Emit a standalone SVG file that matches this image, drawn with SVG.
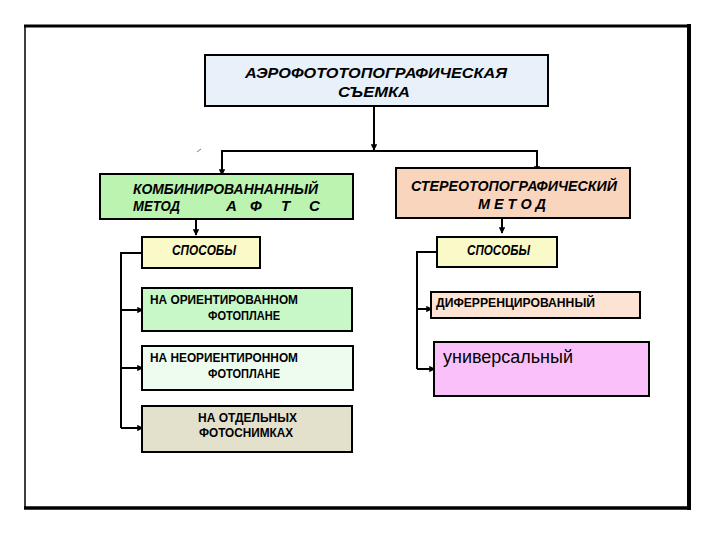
<svg xmlns="http://www.w3.org/2000/svg" width="720" height="540" viewBox="0 0 720 540">
<style>
.box{stroke:#000;stroke-width:2}
.con{fill:none;stroke:#000;stroke-width:2}
.t{font-family:"Liberation Sans",Arial,sans-serif;fill:#000}
.bi{font-weight:bold;font-style:italic;font-size:15px}
.b{font-weight:bold;font-size:12.5px}
</style>
<defs>
<marker id="ah" viewBox="0 0 10 10" refX="9" refY="5" markerWidth="3.2" markerHeight="3.2" orient="auto" markerUnits="strokeWidth">
<path d="M0,0 L10,5 L0,10 Z" fill="#000"/>
</marker>
</defs>
<rect x="0" y="0" width="720" height="540" fill="#fff"/>
<g id="frame">
<line x1="25" y1="25" x2="25" y2="508" stroke="#000" stroke-width="1.5"/>
<line x1="24" y1="26" x2="690" y2="26" stroke="#000" stroke-width="3"/>
<line x1="689" y1="24" x2="689" y2="510" stroke="#000" stroke-width="4"/>
<line x1="24" y1="508" x2="691" y2="508" stroke="#000" stroke-width="3.5"/>
</g>
<g id="connectors">
<path class="con" d="M374,107 V150" marker-end="url(#ah)"/>
<path class="con" d="M222,151 H537"/>
<path class="con" d="M222,150 V175" marker-end="url(#ah)"/>
<path class="con" d="M537,150 V172" marker-end="url(#ah)"/>
<path class="con" d="M196,220 V235" marker-end="url(#ah)"/>
<path class="con" d="M502,218 V233" marker-end="url(#ah)"/>
<path class="con" d="M142,253 H121 V428"/>
<path class="con" d="M121,310 H143" marker-end="url(#ah)"/>
<path class="con" d="M121,368 H143" marker-end="url(#ah)"/>
<path class="con" d="M121,428 H143" marker-end="url(#ah)"/>
<path class="con" d="M437,252 H417 V369"/>
<path class="con" d="M417,309 H432" marker-end="url(#ah)"/>
<path class="con" d="M417,369 H435" marker-end="url(#ah)"/>
<line x1="197" y1="152" x2="201" y2="149" stroke="#777" stroke-width="1"/>
</g>
<g id="n-top">
<rect class="box" x="205" y="55" width="343" height="51" fill="#e8f0fa"/>
<text class="t bi" x="245" y="78" textLength="262" lengthAdjust="spacingAndGlyphs">АЭРОФОТОТОПОГРАФИЧЕСКАЯ</text>
<text class="t bi" x="338" y="97" textLength="72" lengthAdjust="spacingAndGlyphs">СЪЕМКА</text>
</g>
<g id="n-comb">
<rect class="box" x="100" y="174" width="253" height="45" fill="#bbf3b0"/>
<text class="t bi" x="133" y="194" textLength="185" lengthAdjust="spacingAndGlyphs" font-size="14">КОМБИНИРОВАННАННЫЙ</text>
<text class="t bi" x="133" y="211" textLength="47" lengthAdjust="spacingAndGlyphs" font-size="14">МЕТОД</text>
<text class="t bi" x="226" y="211" font-size="14">А</text>
<text class="t bi" x="250" y="211" font-size="14">Ф</text>
<text class="t bi" x="281" y="211" font-size="14">Т</text>
<text class="t bi" x="309" y="211" font-size="14">С</text>
</g>
<g id="n-stereo">
<rect class="box" x="396" y="168" width="234" height="50" fill="#fad5bd"/>
<text class="t bi" x="411" y="191" textLength="206" lengthAdjust="spacingAndGlyphs" font-size="14">СТЕРЕОТОПОГРАФИЧЕСКИЙ</text>
<text class="t bi" x="478" y="209" textLength="68" lengthAdjust="spacingAndGlyphs" font-size="14">М Е Т О Д</text>
</g>
<g id="n-sp-left">
<rect class="box" x="142" y="237" width="118" height="31" fill="#fafac8"/>
<text class="t bi" x="172" y="255" textLength="64" lengthAdjust="spacingAndGlyphs" font-size="13">СПОСОБЫ</text>
</g>
<g id="n-sp-right">
<rect class="box" x="437" y="237" width="120" height="30" fill="#fafac8"/>
<text class="t bi" x="467" y="255" textLength="63" lengthAdjust="spacingAndGlyphs" font-size="13">СПОСОБЫ</text>
</g>
<g id="n-orient">
<rect class="box" x="142" y="288" width="210" height="43" fill="#c8f7c8"/>
<text class="t b" x="150" y="304" textLength="148" lengthAdjust="spacingAndGlyphs">НА ОРИЕНТИРОВАННОМ</text>
<text class="t b" x="208" y="320" textLength="72" lengthAdjust="spacingAndGlyphs">ФОТОПЛАНЕ</text>
</g>
<g id="n-neorient">
<rect class="box" x="142" y="346" width="211" height="44" fill="#eefcef"/>
<text class="t b" x="150" y="362" textLength="148" lengthAdjust="spacingAndGlyphs">НА НЕОРИЕНТИРОННОМ</text>
<text class="t b" x="208" y="378" textLength="72" lengthAdjust="spacingAndGlyphs">ФОТОПЛАНЕ</text>
</g>
<g id="n-otdel">
<rect class="box" x="142" y="406" width="210" height="46" fill="#e3e0cc"/>
<text class="t b" x="198" y="422" textLength="99" lengthAdjust="spacingAndGlyphs">НА ОТДЕЛЬНЫХ</text>
<text class="t b" x="199" y="437" textLength="94" lengthAdjust="spacingAndGlyphs">ФОТОСНИМКАХ</text>
</g>
<g id="n-diff">
<rect class="box" x="431" y="292" width="209" height="26" fill="#fce3d3"/>
<text class="t b" x="436" y="307" textLength="159" lengthAdjust="spacingAndGlyphs">ДИФЕРРЕНЦИРОВАННЫЙ</text>
</g>
<g id="n-univ">
<rect class="box" x="434" y="342" width="215" height="54" fill="#fac0fa"/>
<text class="t" x="443" y="363" font-size="19" textLength="130" lengthAdjust="spacingAndGlyphs">универсальный</text>
</g>
</svg>
